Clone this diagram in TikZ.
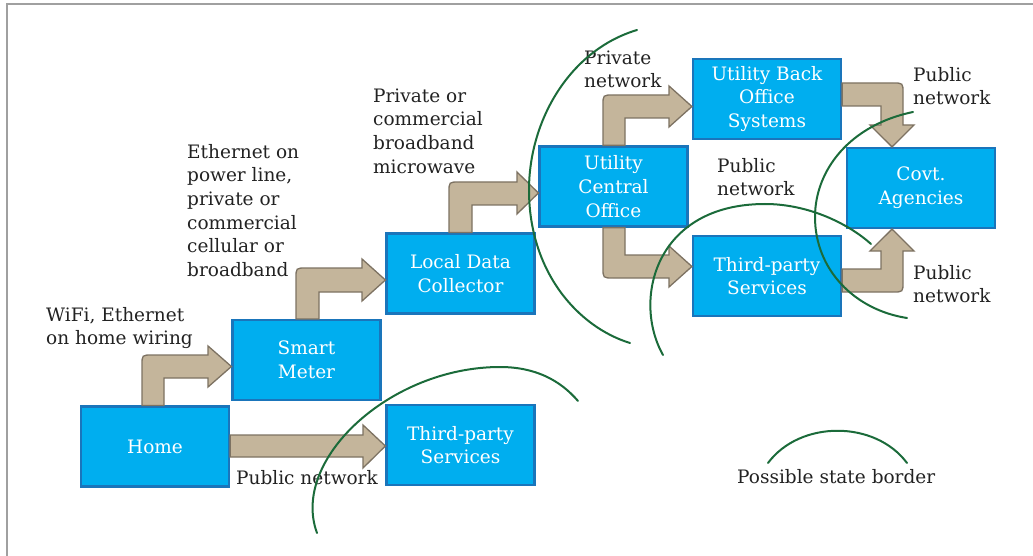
\documentclass[tikz,border=0pt]{standalone}
\usepackage{fontspec}
\setmainfont{DejaVu Serif}
\usetikzlibrary{calc}

\definecolor{boxfill}{HTML}{00AEEF}
\definecolor{boxline}{HTML}{1A75BB}
\definecolor{arrowfill}{HTML}{C4B59B}
\definecolor{arrowline}{HTML}{7D7262}
\definecolor{border}{HTML}{1B6B3A}
\definecolor{labeltext}{HTML}{222222}
\definecolor{frame}{HTML}{A0A0A0}

\newcommand\diagfont{\fontsize{18.5}{23.7}\selectfont}

\tikzset{
  box/.style={draw=boxline, fill=boxfill, line width=2.2pt,
    minimum width=148pt, minimum height=80pt, inner sep=0pt,
    text=white, align=center, font=\diagfont},
  lbl/.style={anchor=north west, inner sep=0pt, align=left,
    text=labeltext, font=\diagfont},
  blockarrow/.style={draw=arrowline, fill=arrowfill, line width=1.3pt,
    line join=miter},
  stateline/.style={draw=border, line width=2pt, line cap=round}
}

\begin{document}
\begin{tikzpicture}[x=1pt, y=-1pt]
  \useasboundingbox (0,0) rectangle (1033,556);
  \draw[frame, line width=2pt] (1033,4) -- (7,4) -- (7,556);

  % systems
  \node[box] (home) at (155,446.5) {Home};
  \node[box] (meter) at (306.5,360) {Smart\\Meter};
  \node[box] (ldc) at (460.5,273.5) {Local Data\\Collector};
  \node[box] (uco) at (613.5,186.5) {Utility\\Central\\Office};
  \node[box] (ubos) at (767,99) {Utility Back\\Office\\Systems};
  \node[box] (covt) at (921,188) {Covt.\\Agencies};
  \node[box] (tpsR) at (767,276) {Third-party\\Services};
  \node[box] (tpsB) at (460.5,445) {Third-party\\Services};

  % links between systems
  \draw[blockarrow] (142,0 |- home.north) -- (142,365) .. controls (142,355) .. (152,355)
    -- (208,355) -- (208,346) -- (meter.west |- 0,366.5) -- (208,387) -- (208,378)
    -- (164,378) -- (164,0 |- home.north) -- cycle;
  \draw[blockarrow] (296,0 |- meter.north) -- (296,278) .. controls (296,268) .. (306,268)
    -- (362,268) -- (362,259) -- (ldc.west |- 0,280) -- (362,301) -- (362,292)
    -- (319,292) -- (319,0 |- meter.north) -- cycle;
  \draw[blockarrow] (449,0 |- ldc.north) -- (449,192) .. controls (449,182) .. (459,182)
    -- (517,182) -- (517,172) -- (uco.west |- 0,193) -- (517,214) -- (517,205)
    -- (472,205) -- (472,0 |- ldc.north) -- cycle;
  \draw[blockarrow] (603,0 |- uco.north) -- (603,105) .. controls (603,95) .. (613,95)
    -- (669,95) -- (669,86) -- (ubos.west |- 0,106.5) -- (669,127) -- (669,118)
    -- (625,118) -- (625,0 |- uco.north) -- cycle;
  \draw[blockarrow] (603,0 |- uco.south) -- (603,268) .. controls (603,278) .. (613,278)
    -- (669,278) -- (669,287) -- (tpsR.west |- 0,266.5) -- (669,246) -- (669,255)
    -- (625,255) -- (625,0 |- uco.south) -- cycle;
  \draw[blockarrow] (ubos.east |- 0,83) -- (893,83) .. controls (903,83) .. (903,93)
    -- (903,125) -- (914,125) -- (892,0 |- covt.north) -- (870,125) -- (881,125)
    -- (881,106) -- (ubos.east |- 0,106) -- cycle;
  \draw[blockarrow] (tpsR.east |- 0,292) -- (893,292) .. controls (903,292) .. (903,282)
    -- (903,251) -- (914,251) -- (892,0 |- covt.south) -- (870,251) -- (881,251)
    -- (881,269) -- (tpsR.east |- 0,269) -- cycle;
  \draw[blockarrow] (home.east |- 0,435) -- (363,435) -- (363,425)
    -- (tpsB.west |- 0,446) -- (363,468) -- (363,457) -- (home.east |- 0,457) -- cycle;

  % link labels
  \node[lbl] (lwifi) at (46,304.4) {\strut WiFi, Ethernet\\on home wiring};
  \node[lbl] (lplc) at (187,141.4) {\strut Ethernet on\\power line,\\private or\\commercial\\cellular or\\broadband};
  \node[lbl] (lmw) at (373,85.4) {\strut Private or\\commercial\\broadband\\microwave};
  \node[lbl] (lpriv) at (584,47.4) {\strut Private\\network};
  \node[lbl] (lpubM) at (717,155.4) {\strut Public\\network};
  \node[lbl] (lpubT) at (913,64.4) {\strut Public\\network};
  \node[lbl] (lpubB) at (913,262.4) {\strut Public\\network};
  \node[lbl] (lpubH) at (236,467.4) {\strut Public network};
  \node[lbl] (llegend) at (737,466.4) {\strut Possible state border};

  % possible state borders
  \draw[stateline] (637,30) .. controls (570,50) and (529,120) .. (529,190)
    .. controls (529,272) and (578,327) .. (630,343);
  \draw[stateline] (663,355) .. controls (632,300) and (655,204) .. (765,204)
    .. controls (810,204) and (850,225) .. (871,244);
  \draw[stateline] (913,112) .. controls (850,125) and (815,170) .. (815,217)
    .. controls (815,270) and (855,310) .. (907,318);
  \draw[stateline] (317,533) .. controls (290,460) and (390,367) .. (500,367)
    .. controls (535,367) and (560,380) .. (578,401);
  \draw[stateline] (768,463) .. controls (800,420) and (875,420) .. (907,463);
\end{tikzpicture}
\end{document}
